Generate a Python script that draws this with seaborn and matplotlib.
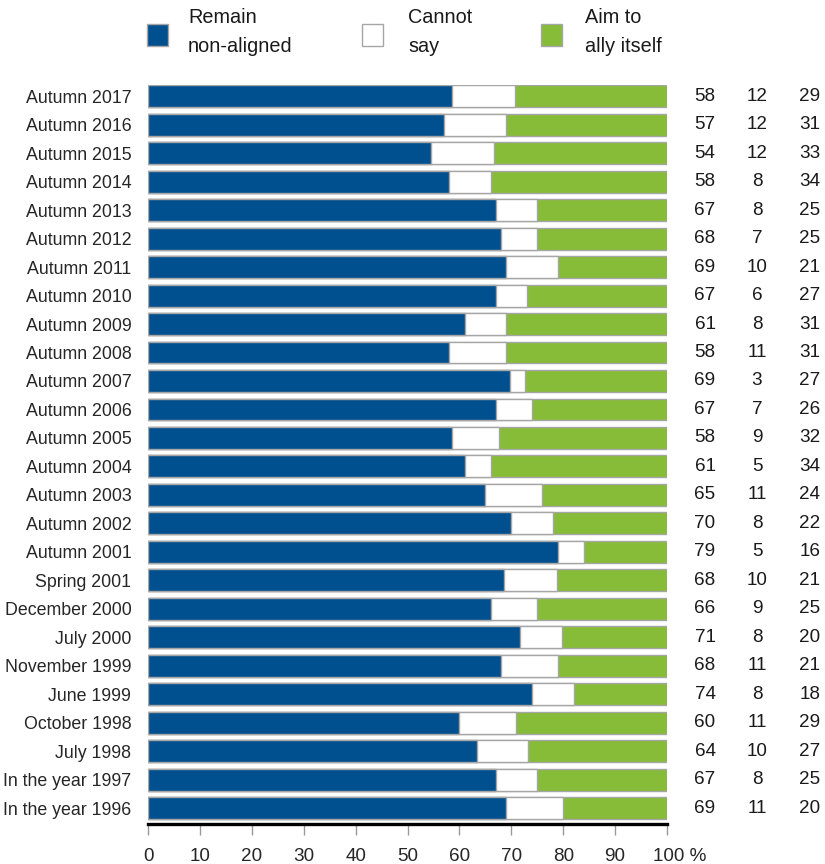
import matplotlib
matplotlib.use("Agg")
import matplotlib.pyplot as plt
import matplotlib.transforms as mtransforms
from matplotlib import font_manager as fm
import seaborn as sns
import pandas as pd
from matplotlib.patches import Rectangle

periods = ["Autumn 2017", "Autumn 2016", "Autumn 2015", "Autumn 2014", "Autumn 2013",
           "Autumn 2012", "Autumn 2011", "Autumn 2010", "Autumn 2009", "Autumn 2008",
           "Autumn 2007", "Autumn 2006", "Autumn 2005", "Autumn 2004", "Autumn 2003",
           "Autumn 2002", "Autumn 2001", "Spring 2001", "December 2000", "July 2000",
           "November 1999", "June 1999", "October 1998", "July 1998",
           "In the year 1997", "In the year 1996"]
remain = [58, 57, 54, 58, 67, 68, 69, 67, 61, 58, 69, 67, 58, 61, 65, 70, 79, 68, 66, 71,
          68, 74, 60, 64, 67, 69]
cannot = [12, 12, 12, 8, 8, 7, 10, 6, 8, 11, 3, 7, 9, 5, 11, 8, 5, 10, 9, 8, 11, 8, 11, 10, 8, 11]
ally = [29, 31, 33, 34, 25, 25, 21, 27, 31, 31, 27, 26, 32, 34, 24, 22, 16, 21, 25, 20, 21, 18,
        29, 27, 25, 20]
series_names = ["Remain\nnon-aligned", "Cannot\nsay", "Aim to\nally itself"]
xticks = [0, 10, 20, 30, 40, 50, 60, 70, 80, 90, 100]

BLUE = "#00508F"
WHITE = "#FFFFFF"
GREEN = "#86BC37"
EDGE = "#A6A6A6"

sns.set_theme(style="white")
names = {f.name for f in fm.fontManager.ttflist}
if "Liberation Sans Narrow" in names:
    FONT = ["Liberation Sans Narrow", "DejaVu Sans"]
    FS = 15.5
else:
    FONT = ["Liberation Sans", "DejaVu Sans"]
    FS = 12.8
plt.rcParams["font.family"] = FONT

df = pd.DataFrame({"period": periods, "remain": remain, "cannot": cannot, "ally": ally})
tot = df[["remain", "cannot", "ally"]].sum(axis=1)
df["c1"] = df["remain"] / tot * 100
df["c2"] = (df["remain"] + df["cannot"]) / tot * 100
df["c3"] = 100.0

fig = plt.figure(figsize=(8.25, 8.64), dpi=100)
ax = fig.add_axes([148 / 825, 40 / 864, (667 - 148) / 825, (824 - 85) / 864])

for col, color in [("c3", GREEN), ("c2", WHITE), ("c1", BLUE)]:
    sns.barplot(data=df, x=col, y="period", order=periods, orient="h", color=color,
                edgecolor=EDGE, linewidth=1.0, width=0.77, saturation=1, ax=ax)

ax.set_ylim(25.55, -0.39)
ax.set_xlim(0, 100)
ax.set_xlabel("")
ax.set_ylabel("")
ax.set_xticks(xticks)
ax.set_xticklabels([str(t) if t < 100 else "100 %" for t in xticks], fontsize=FS + 0.8)
ax.tick_params(axis="x", which="major", direction="out", length=8, width=1,
               color="#999999", pad=9, bottom=True)
ax.tick_params(axis="y", length=0, pad=12, labelsize=FS)
for s in ["top", "right", "left"]:
    ax.spines[s].set_visible(False)
ax.spines["bottom"].set_linewidth(2.4)
ax.spines["bottom"].set_color("black")
ax.grid(False)

lbls = ax.get_xticklabels()
lbls[-1].set_horizontalalignment("left")
lbls[-1].set_transform(lbls[-1].get_transform() +
                       mtransforms.ScaledTranslation(-14 / 100, 0, fig.dpi_scale_trans))

col_x = [705 / 825, 757 / 825, 810 / 825]
trans = mtransforms.blended_transform_factory(fig.transFigure, ax.transData)
for i in range(len(periods)):
    for cx, vals in zip(col_x, [remain, cannot, ally]):
        ax.text(cx, i, str(vals[i]), transform=trans, ha="center", va="center",
                fontsize=FS + 0.8, color="#1a1a1a", clip_on=False)

leg_sq = [(147, BLUE), (362, WHITE), (541, GREEN)]
leg_tx = [188, 408, 585]
for (sx, c), tx, name in zip(leg_sq, leg_tx, series_names):
    fig.patches.append(Rectangle((sx / 825, 1 - 46 / 864), 21 / 825, 22 / 864,
                                 transform=fig.transFigure, facecolor=c, edgecolor=EDGE,
                                 linewidth=1.0))
    fig.text(tx / 825, 1 - 32 / 864, name, ha="left", va="center", fontsize=FS + 1.5,
             linespacing=1.65, color="#1a1a1a")

fig.savefig("out.png", dpi=100)
